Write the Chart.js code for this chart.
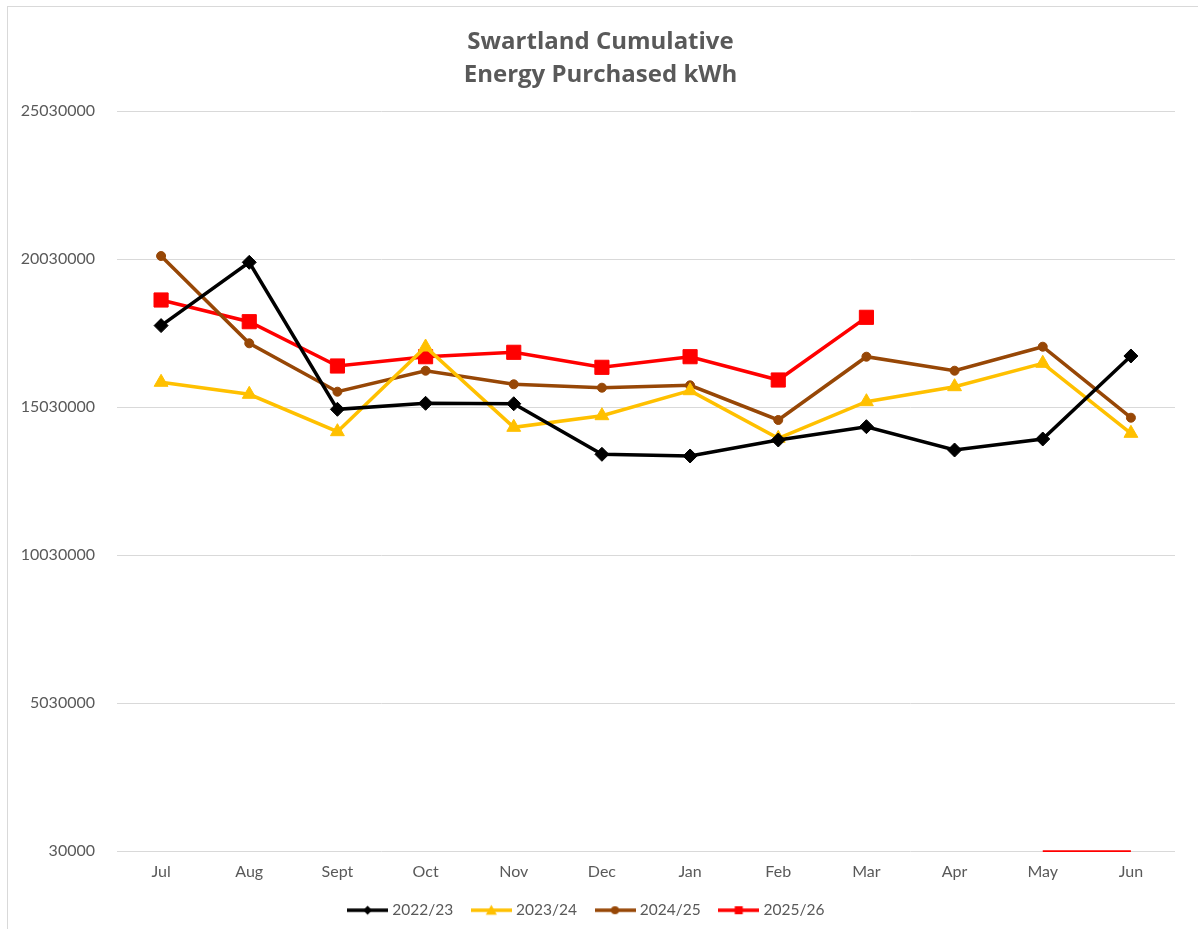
<!DOCTYPE html>
<html>
<head>
<meta charset="utf-8">
<title>Swartland Cumulative Energy Purchased kWh</title>
<script src="https://cdn.jsdelivr.net/npm/chart.js@4.4.1/dist/chart.umd.min.js"></script>
<style>
    html, body { margin: 0; padding: 0; background: #fff; overflow: hidden; }
    #wrap { position: relative; width: 1198px; height: 929px; }
    #frame { position: absolute; left: 7px; top: 6px; width: 1190px; height: 940px; border: 1px solid #d9d9d9; pointer-events: none; }
</style>
</head>
<body>
<div id="wrap">
    <canvas id="chart"></canvas>
    <div id="frame"></div>
</div>
<script>
const months = ['Jul', 'Aug', 'Sept', 'Oct', 'Nov', 'Dec', 'Jan', 'Feb', 'Mar', 'Apr', 'May', 'Jun'];
const fy2223 = [17780000, 19918000, 14952000, 15155000, 15140000, 13432000, 13375000, 13915000, 14365000, 13577000, 13949000, 16753000];
const fy2324 = [15865000, 15459000, 14196000, 17057000, 14344000, 14736000, 15581000, 13972000, 15209000, 15716000, 16506000, 14141000];
const fy2425 = [20131000, 17182000, 15547000, 16256000, 15797000, 15682000, 15763000, 14591000, 16729000, 16256000, 17067000, 14668000];
const fy2526 = [18645000, 17912000, 16415000, 16729000, 16878000, 16371000, 16729000, 15942000, 18060000, null, 0, 0];
const yTicks = [30000, 5030000, 10030000, 15030000, 20030000, 25030000];

const textColor = '#595959';
const tickFont = 'Lato, "Open Sans", sans-serif';
const titleFont = '"Open Sans", Lato, sans-serif';

// small line + marker picture for each legend entry
function legendSample(color, shape) {
    const c = document.createElement('canvas');
    c.width = 41;
    c.height = 14;
    const g = c.getContext('2d');
    g.strokeStyle = color;
    g.fillStyle = color;
    g.lineWidth = 3.5;
    g.beginPath();
    g.moveTo(0, 7);
    g.lineTo(41, 7);
    g.stroke();
    g.beginPath();
    if (shape === 'diamond') {
        g.moveTo(20.5, 2.5); g.lineTo(25, 7); g.lineTo(20.5, 11.5); g.lineTo(16, 7);
    } else if (shape === 'triangle') {
        g.moveTo(20.5, 1.5); g.lineTo(26, 11.5); g.lineTo(15, 11.5);
    } else if (shape === 'circle') {
        g.arc(20.5, 7, 4, 0, Math.PI * 2);
    } else {
        g.rect(16.5, 3, 8, 8);
    }
    g.closePath();
    g.fill();
    return c;
}

const samples = [
    legendSample('#000000', 'diamond'),
    legendSample('#ffc000', 'triangle'),
    legendSample('#974706', 'circle'),
    legendSample('#ff0000', 'square')
];

// the title sits a little right of the legend in the original
const nudgeTitle = {
    id: 'nudgeTitle',
    afterLayout(chart) {
        chart.titleBlock.left += 13;
        chart.titleBlock.right += 13;
    }
};

new Chart(document.getElementById('chart'), {
    type: 'line',
    data: {
        labels: months,
        datasets: [
            {
                label: '2022/23',
                data: fy2223,
                borderColor: '#000000',
                backgroundColor: '#000000',
                borderWidth: 3.5,
                pointStyle: 'rectRot',
                pointRadius: 7,
                pointBorderWidth: 1
            },
            {
                label: '2023/24',
                data: fy2324,
                borderColor: '#ffc000',
                backgroundColor: '#ffc000',
                borderWidth: 3.5,
                pointStyle: 'triangle',
                pointRadius: 8,
                pointBorderWidth: 1
            },
            {
                label: '2024/25',
                data: fy2425,
                borderColor: '#974706',
                backgroundColor: '#974706',
                borderWidth: 3.5,
                pointStyle: 'circle',
                pointRadius: 4.5,
                pointBorderWidth: 1
            },
            {
                label: '2025/26',
                data: fy2526,
                borderColor: '#ff0000',
                backgroundColor: '#ff0000',
                borderWidth: 3.5,
                pointStyle: 'rect',
                pointRadius: ctx => ctx.raw === 0 ? 0 : 10,
                pointBorderWidth: 1,
                clip: 1
            }
        ]
    },
    plugins: [nudgeTitle],
    options: {
        responsive: true,
        maintainAspectRatio: false,
        animation: false,
        layout: { padding: { left: 0, right: 23, top: 0, bottom: 1 } },
        plugins: {
            title: {
                display: true,
                text: ['Swartland Cumulative', 'Energy Purchased kWh'],
                color: textColor,
                font: { family: titleFont, size: 24, weight: 'bold', lineHeight: 1.375 },
                padding: { top: 26, bottom: 19 }
            },
            legend: {
                position: 'bottom',
                labels: {
                    color: textColor,
                    font: { family: tickFont, size: 15.5 },
                    usePointStyle: true,
                    pointStyleWidth: 34,
                    padding: 21,
                    generateLabels(chart) {
                        const items = Chart.defaults.plugins.legend.labels.generateLabels(chart);
                        items.forEach((item, i) => { item.pointStyle = samples[i]; });
                        return items;
                    }
                }
            },
            tooltip: { enabled: false }
        },
        scales: {
            x: {
                offset: true,
                grid: { display: false, drawTicks: false },
                border: { display: false },
                ticks: { color: textColor, font: { family: tickFont, size: 16 }, padding: 11 },
                afterFit(scale) { scale.height = 30.5; }
            },
            y: {
                min: 30000,
                max: 25030000,
                grid: { color: '#d9d9d9', drawTicks: false },
                border: { display: false },
                ticks: {
                    color: textColor,
                    font: { family: tickFont, size: 16 },
                    padding: 22,
                    callback: v => String(v)
                },
                afterBuildTicks(scale) { scale.ticks = yTicks.map(v => ({ value: v })); },
                afterFit(scale) { scale.width = 117; }
            }
        }
    }
});
</script>
</body>
</html>
